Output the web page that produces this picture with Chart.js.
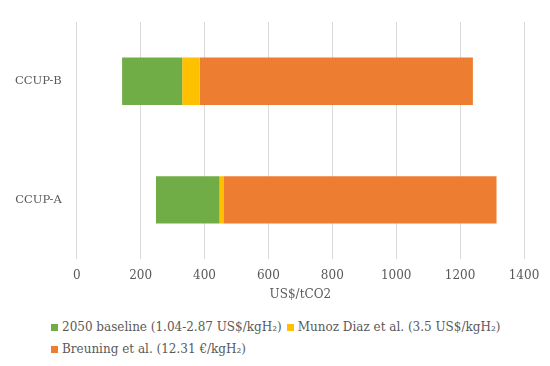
<!DOCTYPE html>
<html>
<head>
<meta charset="utf-8">
<script src="https://cdn.jsdelivr.net/npm/chart.js@4.4.0/dist/chart.umd.min.js"></script>
<style>
  body { margin: 0; background: #fff; }
  #wrap { position: relative; width: 550px; height: 366px; }
  #chart-box { position: absolute; left: 0; top: 0; width: 550px; height: 310px; }
  #legend {
    position: absolute; left: 51px; top: 316px; width: 460px;
    display: flex; flex-wrap: wrap; font-family: "DejaVu Serif", serif;
    font-size: 12px; color: #595959; line-height: 22px;
  }
  .item { display: flex; align-items: center; margin-right: 5px; white-space: nowrap; }
  .box { width: 7px; height: 7px; margin-right: 4px; }
</style>
</head>
<body>
<div id="wrap">
  <div id="chart-box"><canvas id="myChart"></canvas></div>
  <div id="legend"></div>
</div>
<script>
// CCUP cost ranges, US$/tCO2
const categories = ['CCUP-B', 'CCUP-A'];
const baselineLow = [142, 248];   // 2050 baseline, start
const baselineHigh = [330, 447];  // 2050 baseline, end
const munozDiaz = [385, 459];
const breuning = [1240, 1314];
const xTicks = [0, 200, 400, 600, 800, 1000, 1200, 1400];

const seriesLabels = [
  '2050 baseline (1.04-2.87 US$/kgH₂)',
  'Munoz Diaz et al. (3.5 US$/kgH₂)',
  'Breuning et al. (12.31 €/kgH₂)'
];
const colors = ['#70AD47', '#FFC000', '#ED7D31'];

const greenBars = categories.map((c, i) => [baselineLow[i], baselineHigh[i]]);
const yellowBars = categories.map((c, i) => [baselineHigh[i], munozDiaz[i]]);
const orangeBars = categories.map((c, i) => [munozDiaz[i], breuning[i]]);

const textColor = '#595959';
const fontFamily = '"DejaVu Serif", serif';

const ctx = document.getElementById('myChart').getContext('2d');
const myChart = new Chart(ctx, {
    type: 'bar',
    data: {
        labels: categories,
        datasets: [
            { label: seriesLabels[0], data: greenBars, backgroundColor: colors[0] },
            { label: seriesLabels[1], data: yellowBars, backgroundColor: colors[1] },
            { label: seriesLabels[2], data: orangeBars, backgroundColor: colors[2] }
        ]
    },
    options: {
        indexAxis: 'y',
        responsive: true,
        maintainAspectRatio: false,
        animation: false,
        layout: { padding: { left: 0, right: 26, top: 19, bottom: 8 } },
        datasets: { bar: { categoryPercentage: 1, barPercentage: 0.4, borderWidth: 0 } },
        plugins: { legend: { display: false }, tooltip: { enabled: false } },
        scales: {
            x: {
                min: 0,
                max: 1400,
                afterBuildTicks: axis => { axis.ticks = xTicks.map(v => ({ value: v })); },
                grid: { color: '#D9D9D9', drawTicks: false },
                border: { display: false },
                ticks: {
                    color: textColor, padding: 9,
                    font: { family: fontFamily, size: 12 },
                    callback: value => String(value)
                },
                title: {
                    display: true, text: 'US$/tCO2', color: textColor,
                    padding: { top: -4, bottom: 0 },
                    font: { family: fontFamily, size: 12 }
                }
            },
            y: {
                stacked: true,
                grid: { display: false, drawTicks: false },
                border: { display: false },
                ticks: { color: textColor, padding: 15, font: { family: fontFamily, size: 11.5 } }
            }
        }
    }
});

// legend below the chart, built from the datasets
document.getElementById('legend').innerHTML = myChart.data.datasets.map(ds => `
    <div class="item"><span class="box" style="background:${ds.backgroundColor}"></span>${ds.label}</div>
`).join('');
</script>
</body>
</html>
